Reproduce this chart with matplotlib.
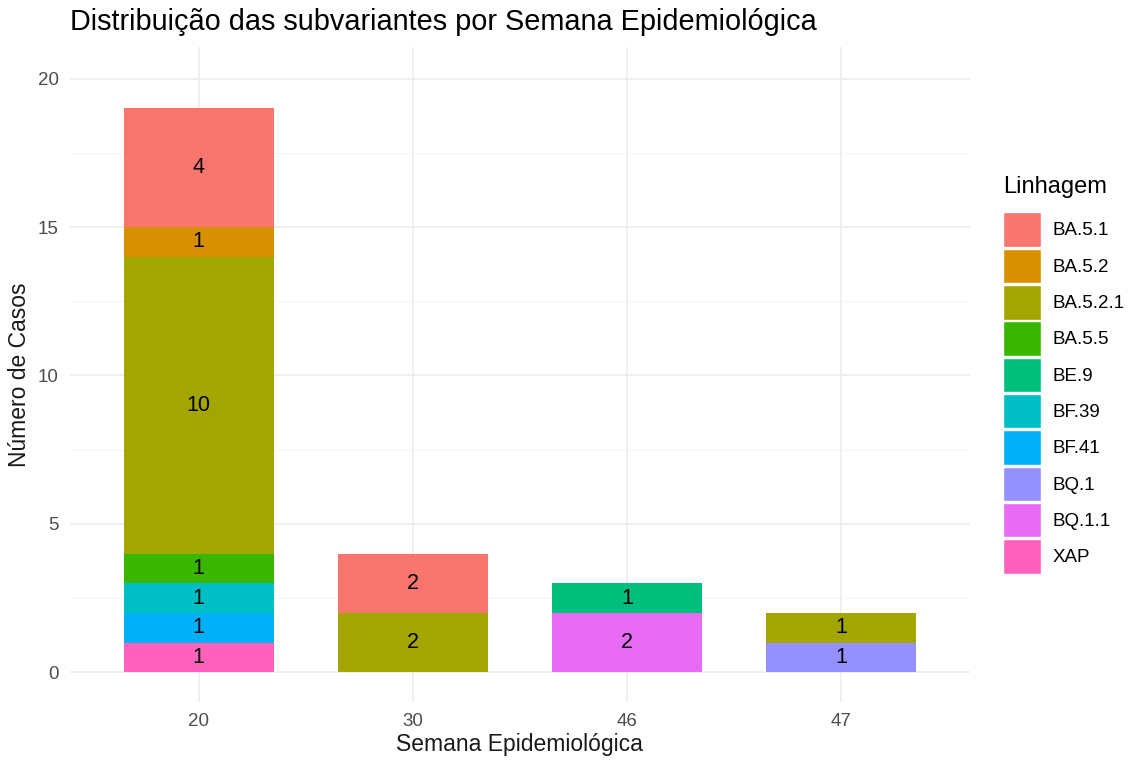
import matplotlib.pyplot as plt
from matplotlib.patches import Patch
import numpy as np

plt.rcParams['font.family'] = ['Liberation Sans', 'DejaVu Sans']

weeks = ['20', '30', '46', '47']
lineages = ['BA.5.1', 'BA.5.2', 'BA.5.2.1', 'BA.5.5', 'BE.9',
            'BF.39', 'BF.41', 'BQ.1', 'BQ.1.1', 'XAP']
colors = ['#F8766D', '#D89000', '#A3A500', '#39B600', '#00BF7D',
          '#00BFC4', '#00B0F6', '#9590FF', '#E76BF3', '#FF62BC']
# casos por linhagem em cada semana (20, 30, 46, 47)
ba_5_1 = [4, 2, 0, 0]
ba_5_2 = [1, 0, 0, 0]
ba_5_2_1 = [10, 2, 0, 1]
ba_5_5 = [1, 0, 0, 0]
be_9 = [0, 0, 1, 0]
bf_39 = [1, 0, 0, 0]
bf_41 = [1, 0, 0, 0]
bq_1 = [0, 0, 0, 1]
bq_1_1 = [0, 0, 2, 0]
xap = [1, 0, 0, 0]
counts = [ba_5_1, ba_5_2, ba_5_2_1, ba_5_5, be_9, bf_39, bf_41, bq_1, bq_1_1, xap]

fig = plt.figure(figsize=(11.29, 7.64), dpi=100)
ax = fig.add_axes([0.062, 0.081, 0.797, 0.857])

x = np.arange(len(weeks))
bottom = np.zeros(len(weeks))
# ggplot empilha o primeiro nivel no topo -> desenhar de tras pra frente
for name, col, vals in reversed(list(zip(lineages, colors, counts))):
    vals = np.array(vals, dtype=float)
    ax.bar(x, vals, 0.7, bottom=bottom, color=col, linewidth=0, zorder=2)
    for xi, b, v in zip(x, bottom, vals):
        if v > 0:
            ax.text(xi, b + v / 2, str(int(v)), ha='center', va='center',
                    fontsize=15.5, color='black', zorder=3)
    bottom += vals

ax.set_xlim(-0.6, len(weeks) - 0.4)
ax.set_ylim(-1.0, 21.05)
ax.set_xticks(x)
ax.set_xticklabels(weeks)
ax.set_yticks([0, 5, 10, 15, 20])
ax.set_yticks([2.5, 7.5, 12.5, 17.5], minor=True)
ax.grid(which='major', color='#EBEBEB', linewidth=1.1, zorder=0)
ax.grid(which='minor', axis='y', color='#F2F2F2', linewidth=0.6, zorder=0)
ax.tick_params(which='both', length=0, labelsize=13.5, colors='#4D4D4D', pad=8)
for s in ax.spines.values():
    s.set_visible(False)

ax.set_xlabel('Semana Epidemiológica', fontsize=16.5, color='#1A1A1A', labelpad=2)
ax.set_ylabel('Número de Casos', fontsize=16.5, color='#1A1A1A', labelpad=5)
fig.text(0.062, 0.971, 'Distribuição das subvariantes por Semana Epidemiológica',
         fontsize=20.8, color='black', va='center', ha='left')

# legenda estilo ggplot: titulo separado e chaves grandes
fig.text(0.8884, 1 - 187 / 764, 'Linhagem', fontsize=17, color='black',
         va='center', ha='left')
handles = [Patch(facecolor=c, edgecolor='white', linewidth=1) for c in colors]
leg = fig.legend(handles, lineages, loc='upper left',
                 bbox_to_anchor=(0.8884, 0.722), frameon=False, fontsize=13.5,
                 handlelength=2.05, handleheight=2.45, borderpad=0,
                 labelspacing=0.1, handletextpad=0.6, borderaxespad=0)

fig.savefig('out.png', dpi=100)
